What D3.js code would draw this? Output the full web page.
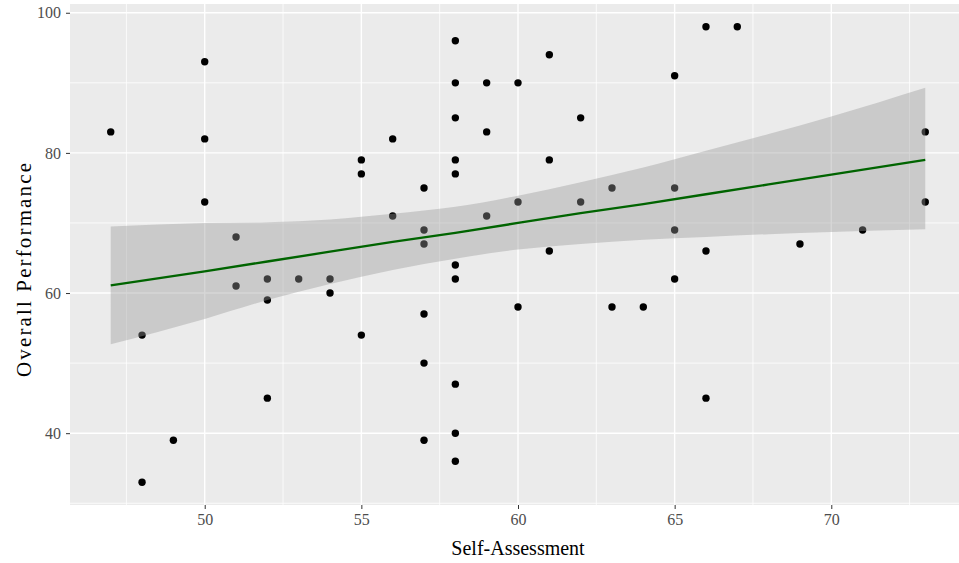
<!DOCTYPE html>
<html>
<head>
<meta charset="utf-8">
<script src="https://cdn.jsdelivr.net/npm/d3@7"></script>
<style>
  body { margin: 0; background: #fff; }
  svg { display: block; }
  .tick text { font-family: "Liberation Serif", "Times New Roman", serif; }
</style>
</head>
<body>
<div id="chart"></div>
<script>
// scatter points
var selfAssessment = [47, 48, 48, 49, 50, 50, 50, 51, 51, 52, 52, 52, 53, 54, 54,
  55, 55, 55, 56, 56, 57, 57, 57, 57, 57, 57,
  58, 58, 58, 58, 58, 58, 58, 58, 58, 58,
  59, 59, 59, 60, 60, 60, 61, 61, 61, 62, 62, 63, 63, 64,
  65, 65, 65, 65, 66, 66, 66, 67, 69, 71, 73, 73];
var performance = [83, 54, 33, 39, 93, 82, 73, 68, 61, 62, 59, 45, 62, 62, 60,
  79, 77, 54, 82, 71, 75, 69, 67, 57, 50, 39,
  96, 90, 85, 79, 77, 64, 62, 47, 40, 36,
  90, 83, 71, 90, 73, 58, 94, 79, 66, 85, 73, 75, 58, 58,
  91, 75, 69, 62, 98, 66, 45, 98, 67, 69, 83, 73];

// smoother (lm) with its confidence band, read at these x positions
var smoothX     = [47, 50, 52, 54, 56, 58, 60, 62, 64, 66, 68, 70, 73];
var smoothFit   = [61.1, 63.1, 64.5, 65.9, 67.3, 68.6, 70.0, 71.4, 72.7, 74.1, 75.5, 76.9, 79.0];
var smoothLower = [52.7, 56.3, 59.0, 61.3, 63.3, 64.9, 66.2, 67.0, 67.6, 68.0, 68.4, 68.7, 69.1];
var smoothUpper = [69.5, 70.0, 70.1, 70.5, 71.3, 72.3, 73.9, 75.8, 77.9, 80.3, 82.7, 85.2, 89.3];

var xTicks = [50, 55, 60, 65, 70];
var xMinor = [47.5, 52.5, 57.5, 62.5, 67.5, 72.5];
var yTicks = [40, 60, 80, 100];
var yMinor = [30, 50, 70, 90];

var width = 959, height = 563;
var margin = {top: 4, right: 0, bottom: 58, left: 70};
var panelW = 896, panelH = height - margin.top - margin.bottom;

var svg = d3.select("#chart").append("svg")
  .attr("width", width)
  .attr("height", height);

var x = d3.scaleLinear().domain([45.7, 74.3]).range([margin.left, margin.left + panelW]);
var y = d3.scaleLinear().domain([29.75, 101.25]).range([margin.top + panelH, margin.top]);

// grey panel
svg.append("rect")
  .attr("x", margin.left).attr("y", margin.top)
  .attr("width", panelW).attr("height", panelH)
  .attr("fill", "#ebebeb");

var grid = svg.append("g");
grid.selectAll(".vminor").data(xMinor).enter().append("line")
  .attr("x1", d => x(d)).attr("x2", d => x(d))
  .attr("y1", margin.top).attr("y2", margin.top + panelH)
  .attr("stroke", "#fff").attr("stroke-width", 0.8);
grid.selectAll(".hminor").data(yMinor).enter().append("line")
  .attr("y1", d => y(d)).attr("y2", d => y(d))
  .attr("x1", margin.left).attr("x2", margin.left + panelW)
  .attr("stroke", "#fff").attr("stroke-width", 0.8);
grid.selectAll(".vmajor").data(xTicks).enter().append("line")
  .attr("x1", d => x(d)).attr("x2", d => x(d))
  .attr("y1", margin.top).attr("y2", margin.top + panelH)
  .attr("stroke", "#fff").attr("stroke-width", 1.4);
grid.selectAll(".hmajor").data(yTicks).enter().append("line")
  .attr("y1", d => y(d)).attr("y2", d => y(d))
  .attr("x1", margin.left).attr("x2", margin.left + panelW)
  .attr("stroke", "#fff").attr("stroke-width", 1.4);

// points first, the smoother is drawn over them
svg.append("g").selectAll("circle")
  .data(selfAssessment.map((d, i) => [d, performance[i]]))
  .enter().append("circle")
  .attr("cx", d => x(d[0]))
  .attr("cy", d => y(d[1]))
  .attr("r", 3.7)
  .attr("fill", "#000");

var bandData = smoothX.map((d, i) => ({x: d, fit: smoothFit[i], lo: smoothLower[i], hi: smoothUpper[i]}));

var area = d3.area()
  .x(d => x(d.x))
  .y0(d => y(d.lo))
  .y1(d => y(d.hi))
  .curve(d3.curveMonotoneX);

svg.append("path")
  .datum(bandData)
  .attr("d", area)
  .attr("fill", "#999999")
  .attr("fill-opacity", 0.4);

var line = d3.line()
  .x(d => x(d.x))
  .y(d => y(d.fit));

svg.append("path")
  .datum(bandData)
  .attr("d", line)
  .attr("fill", "none")
  .attr("stroke", "#006400")
  .attr("stroke-width", 2.3);

// axes
var xAxis = svg.append("g")
  .attr("transform", "translate(0," + (margin.top + panelH) + ")")
  .call(d3.axisBottom(x).tickValues(xTicks).tickSize(4).tickPadding(5).tickFormat(d3.format("d")));
var yAxis = svg.append("g")
  .attr("transform", "translate(" + margin.left + ",0)")
  .call(d3.axisLeft(y).tickValues(yTicks).tickSize(4).tickPadding(5).tickFormat(d3.format("d")));

[xAxis, yAxis].forEach(function(a) {
  a.select(".domain").remove();
  a.selectAll(".tick line").attr("stroke", "#333").attr("stroke-width", 1);
  a.selectAll(".tick text").attr("fill", "#4d4d4d").style("font-size", "16px");
});

// axis titles
svg.append("text")
  .attr("x", 518).attr("y", 555)
  .attr("text-anchor", "middle")
  .style("font-family", "'Liberation Serif', 'Times New Roman', serif")
  .style("font-size", "20px")
  .attr("fill", "#000")
  .text("Self-Assessment");

svg.append("text")
  .attr("transform", "translate(31,270) rotate(-90)")
  .attr("text-anchor", "middle")
  .attr("textLength", 214)
  .attr("lengthAdjust", "spacing")
  .style("font-family", "'Liberation Serif', 'Times New Roman', serif")
  .style("font-size", "21px")
  .attr("fill", "#000")
  .text("Overall Performance");
</script>
</body>
</html>
